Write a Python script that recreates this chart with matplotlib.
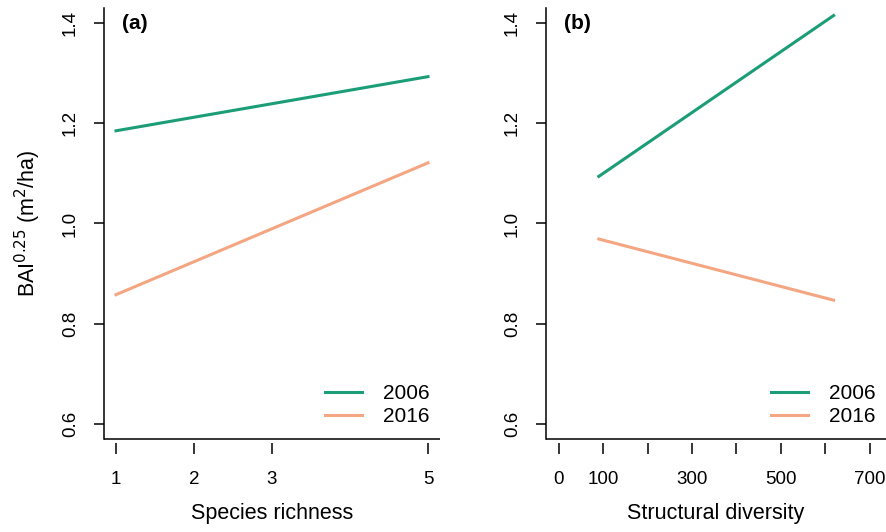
import matplotlib.pyplot as plt

plt.rcParams['font.family'] = ['Liberation Sans', 'DejaVu Sans']

# fitted BAI^0.25 lines (endpoints of model predictions)
years = ['2006', '2016']
colors = ['#1b9e77', '#f4a582']

richness_x = [1, 5]
richness_2006 = [1.185, 1.293]
richness_2016 = [0.858, 1.121]

struct_x = [90, 619]
struct_2006 = [1.094, 1.415]
struct_2016 = [0.969, 0.847]

richness_ticks = [1, 2, 3, 5]
struct_ticks = [0, 100, 200, 300, 400, 500, 600, 700]
struct_labels = ['0', '100', '', '300', '', '500', '', '700']
y_ticks = [0.6, 0.8, 1.0, 1.2, 1.4]

fig = plt.figure(figsize=(8.87, 5.32), dpi=100)
ax_a = fig.add_axes([104 / 887, 1 - 439 / 532, 336 / 887, 431 / 532])
ax_b = fig.add_axes([546 / 887, 1 - 439 / 532, 340 / 887, 431 / 532])


def style_axis(ax, xlim, xticks, xlabels, xlabel, tag):
    ax.set_xlim(*xlim)
    ax.set_ylim(0.57, 1.43)
    for side in ['top', 'right']:
        ax.spines[side].set_visible(False)
    # R-style axis: ticks hang slightly below the box line
    ax.spines['bottom'].set_position(('outward', 3))
    ax.spines['bottom'].set_visible(False)
    ax.plot([0, 1], [0, 0], transform=ax.transAxes, color='black',
            lw=1.1, clip_on=False, solid_capstyle='butt')
    ax.spines['left'].set_linewidth(1.1)
    ax.set_xticks(xticks)
    ax.set_xticklabels(xlabels)
    ax.set_yticks(y_ticks)
    ax.set_yticklabels(['0.6', '0.8', '1.0', '1.2', '1.4'],
                       rotation=90, va='center')
    ax.tick_params(axis='x', length=8, width=1.1, pad=12, labelsize=13.5)
    ax.tick_params(axis='y', length=7, width=1.1, pad=11, labelsize=13.5)
    ax.set_xlabel(xlabel, fontsize=15.5, labelpad=11)
    ax.text(0.054, 0.965, tag, transform=ax.transAxes, fontsize=15,
            fontweight='bold', va='center', ha='left')


ax_a.plot(richness_x, richness_2006, color=colors[0], lw=2.2, label=years[0])
ax_a.plot(richness_x, richness_2016, color=colors[1], lw=2.2, label=years[1])
style_axis(ax_a, (0.846, 5.154), richness_ticks,
           [str(t) for t in richness_ticks], 'Species richness', '(a)')
ax_a.set_ylabel(r'BAI$^{0.25}$ (m$^2$/ha)', fontsize=15.5, labelpad=14)

ax_b.plot(struct_x, struct_2006, color=colors[0], lw=2.2, label=years[0])
ax_b.plot(struct_x, struct_2016, color=colors[1], lw=2.2, label=years[1])
style_axis(ax_b, (-29, 737), struct_ticks, struct_labels,
           'Structural diversity', '(b)')

for ax in (ax_a, ax_b):
    ax.legend(loc='lower right', bbox_to_anchor=(0.97, 0.03), frameon=False,
              fontsize=15, handlelength=1.8, handletextpad=1.0,
              labelspacing=0.2, borderpad=0, borderaxespad=0)

fig.savefig('out.png', dpi=100)
